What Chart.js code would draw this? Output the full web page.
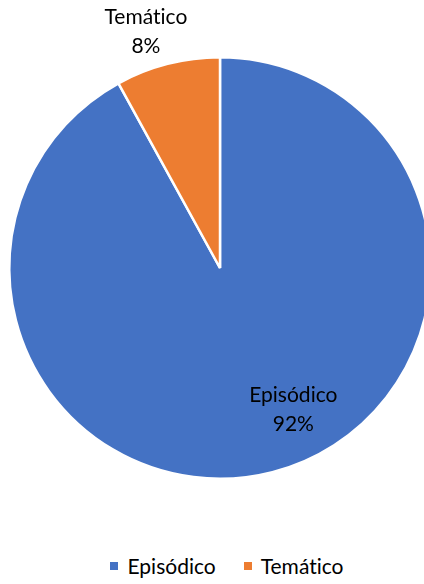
<!DOCTYPE html>
<html lang="pt">
<head>
<meta charset="utf-8">
<script src="https://cdn.jsdelivr.net/npm/chart.js@4.4.1/dist/chart.umd.min.js"></script>
<style>
    html, body { margin: 0; padding: 0; background: #fff; }
    body {
        width: 424px; height: 584px; overflow: hidden; position: relative;
        font-family: Lato, "Open Sans", sans-serif; font-variant-ligatures: none;
    }
    #grafico { position: absolute; left: 0; top: 0; }
    #legenda {
        position: absolute; left: 0; top: 553px; width: 424px; box-sizing: border-box;
        padding-left: 30px; display: flex; justify-content: center; align-items: center;
        font-size: 21px; color: #000;
    }
    .item { display: flex; align-items: center; margin: 0 14px; }
    .caixa { width: 8px; height: 8px; margin-right: 9px; }
</style>
</head>
<body>
<canvas id="grafico" width="440" height="536"></canvas>
<div id="legenda"></div>
<script>
const categorias = ['Episódico', 'Temático'];
const percentuais = [92, 8];
const cores = ['#4472C4', '#ED7D31'];

// onde cada rótulo fica: ângulo (graus, a partir do topo, horário) e distância em raios
const posicaoRotulos = [
    { angulo: 152.6, distancia: 0.756 },
    { angulo: -17.4, distancia: 1.176 },
];

const fonteRotulo = '21px Lato, "Open Sans", sans-serif';

const rotulosPlugin = {
    id: 'rotulos',
    afterDatasetsDraw(chart) {
        const { ctx } = chart;
        const arcos = chart.getDatasetMeta(0).data;
        ctx.save();
        ctx.font = fonteRotulo;
        ctx.textRendering = 'optimizeSpeed'; // sem ligadura "ti"
        ctx.fillStyle = '#000';
        ctx.textAlign = 'center';
        ctx.textBaseline = 'middle';
        arcos.forEach((arco, i) => {
            const pos = posicaoRotulos[i];
            const rad = pos.angulo * Math.PI / 180;
            const r = arco.outerRadius * pos.distancia;
            const x = arco.x + Math.sin(rad) * r;
            const y = arco.y - Math.cos(rad) * r;
            ctx.fillText(categorias[i], x, y - 14.5);
            ctx.fillText(`${percentuais[i]}%`, x, y + 14.5);
        });
        ctx.restore();
    },
};

const grafico = new Chart(document.getElementById('grafico'), {
    type: 'pie',
    data: {
        labels: categorias,
        datasets: [{
            data: percentuais,
            backgroundColor: cores,
            borderColor: '#fff',
            borderWidth: 2.5,
        }],
    },
    options: {
        responsive: false,
        animation: false,
        layout: { padding: { top: 55, bottom: 55, left: 8, right: 8 } },
        plugins: {
            legend: { display: false },
            tooltip: { enabled: false },
        },
    },
    plugins: [rotulosPlugin],
});

// legenda montada a partir dos itens que o próprio Chart.js gera
const legenda = document.getElementById('legenda');
grafico.options.plugins.legend.labels.generateLabels(grafico).forEach(item => {
    const el = document.createElement('div');
    el.className = 'item';
    el.innerHTML = `<span class="caixa" style="background:${item.fillStyle}"></span><span>${item.text}</span>`;
    legenda.appendChild(el);
});
</script>
</body>
</html>
